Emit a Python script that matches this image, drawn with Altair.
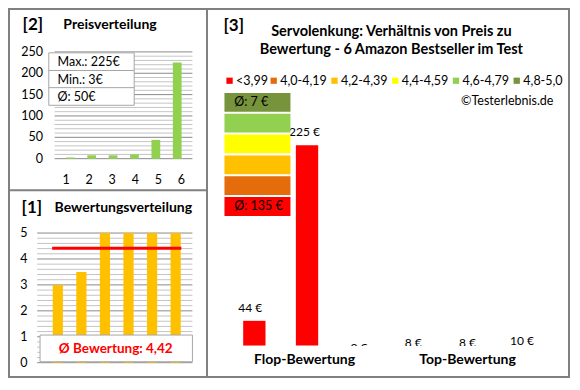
import altair as alt
import pandas as pd

# ---------------- data ----------------
product_idx = [1, 2, 3, 4, 5, 6]
price_dist = [3, 8, 8, 10, 44, 225]              # [2] Preisverteilung
rating_dist = [3.0, 3.5, 5.0, 5.0, 5.0, 5.0]     # [1] Bewertungsverteilung
price_major = [0, 50, 100, 150, 200, 250]
price_minor = [10, 20, 30, 40, 60, 70, 80, 90, 110, 120, 130, 140,
               160, 170, 180, 190, 210, 220, 230, 240]
rating_major = [0, 1, 2, 3, 4, 5]
rating_minor = [0.2, 0.4, 0.6, 0.8, 1.2, 1.4, 1.6, 1.8, 2.2, 2.4, 2.6, 2.8,
                3.2, 3.4, 3.6, 3.8, 4.2, 4.4, 4.6, 4.8]
cmp_prices = [44, 225, 3, 8, 8, 10]               # [3] Preis je Produkt
cmp_ratings = [3.0, 3.5, 5.0, 5.0, 5.0, 5.0]
cmp_groups = ["Flop-Bewertung", "Flop-Bewertung", "Flop-Bewertung",
              "Top-Bewertung", "Top-Bewertung", "Top-Bewertung"]
class_labels = ["<3,99", "4,0-4,19", "4,2-4,39", "4,4-4,59", "4,6-4,79", "4,8-5,0"]
class_colors = ["#FF0000", "#E46C0A", "#FFC000", "#FFFF00", "#92D050", "#77933C"]
class_bounds = [4.0, 4.2, 4.4, 4.6, 4.8]

# ---------------- layout helpers (reference pixel -> canvas) ----------------
W, H = 562, 370
SX = (W - 2) / 577.0
SY = (H - 2) / 386.0


def px(x):
    return (x - 1) * SX + 1


def py(y):
    return (y - 2) * SY + 1


FONT = "Lato"
GRID_MAJOR = "#8a8a8a"
GRID_MINOR = "#c4c4c4"
FRAME = "#808080"
TICK_FS = 12.5


def one():
    return pd.DataFrame({"d": [0]})


def txt(s, x, y, size=11, bold=False, align="left", color="black"):
    return alt.Chart(pd.DataFrame({"t": [s]})).mark_text(
        align=align, baseline="middle", font=FONT, fontSize=size,
        fontWeight="bold" if bold else "normal", color=color
    ).encode(text="t:N", x=alt.value(px(x)), y=alt.value(py(y)))


def box(x1, y1, x2, y2, fill="white", stroke=None, sw=1):
    kw = dict(fill=fill)
    if stroke:
        kw.update(stroke=stroke, strokeWidth=sw)
    return alt.Chart(one()).mark_rect(**kw).encode(
        x=alt.value(px(x1)), x2=alt.value(px(x2)),
        y=alt.value(py(y1)), y2=alt.value(py(y2)))


def hline(x1, x2, y, color=FRAME, sw=2):
    return alt.Chart(one()).mark_rule(color=color, strokeWidth=sw).encode(
        x=alt.value(px(x1)), x2=alt.value(px(x2)), y=alt.value(py(y)))


def vline(x, y1, y2, color=FRAME, sw=2):
    return alt.Chart(one()).mark_rule(color=color, strokeWidth=sw).encode(
        x=alt.value(px(x)), y=alt.value(py(y1)), y2=alt.value(py(y2)))


def rating_class(r):
    k = 0
    for b in class_bounds:
        if r >= b:
            k += 1
    return class_labels[k]


layers = []

# ---------------- frame ----------------
layers.append(box(1, 2, 578, 388, fill="white"))

# ================= panel [2] Preisverteilung =================
p2_y = alt.Scale(domain=[0, 250], range=[py(159), py(47)])
p2_x = alt.Scale(domain=[0.5, 6.5], range=[px(48), px(190.5)])
for ticks, col in [(price_minor, GRID_MINOR), (price_major, GRID_MAJOR)]:
    layers.append(alt.Chart(pd.DataFrame({"v": ticks})).mark_rule(color=col, strokeWidth=1).encode(
        y=alt.Y("v:Q", scale=p2_y, axis=None),
        x=alt.value(px(48)), x2=alt.value(px(190))))
layers.append(alt.Chart(pd.DataFrame({"v": price_major})).mark_text(
    align="right", baseline="middle", font=FONT, fontSize=TICK_FS).encode(
    y=alt.Y("v:Q", scale=p2_y, axis=None), text="v:Q", x=alt.value(px(36))))
p2 = pd.DataFrame({"i": product_idx, "price": price_dist})
layers.append(alt.Chart(p2).mark_bar(color="#92D050", size=9 * SX).encode(
    x=alt.X("i:Q", scale=p2_x, axis=None),
    y=alt.Y("price:Q", scale=p2_y, axis=None),
    y2=alt.Y2(datum=0)))
layers.append(alt.Chart(p2).mark_text(baseline="middle", font=FONT, fontSize=TICK_FS).encode(
    x=alt.X("i:Q", scale=p2_x, axis=None), text="i:Q", y=alt.value(py(181))))
# info box
pmax, pmin = max(price_dist), min(price_dist)
pavg = int(sum(price_dist) / len(price_dist) + 0.5)
layers.append(box(42, 48, 130, 103, fill="white", stroke="#a6a6a6"))
layers.append(hline(42, 130, 66.5, color="#a6a6a6", sw=1))
layers.append(hline(42, 130, 84.5, color="#a6a6a6", sw=1))
layers.append(txt(f"Max.: {pmax}€", 51, 58, 12.5))
layers.append(txt(f"Min.: {pmin}€", 51, 76, 12.5))
layers.append(txt(f"Ø: {pavg}€", 51, 94, 12.5))
layers.append(txt("[2]", 15, 19, 17, True))
layers.append(txt("Preisverteilung", 57, 19, 14, True))

# ================= panel [1] Bewertungsverteilung =================
p1_y = alt.Scale(domain=[0, 5], range=[py(373), py(237)])
p1_x = alt.Scale(domain=[0.5, 6.5], range=[px(34), px(190)])
for ticks, col in [(rating_minor, GRID_MINOR), (rating_major, GRID_MAJOR)]:
    layers.append(alt.Chart(pd.DataFrame({"v": ticks})).mark_rule(color=col, strokeWidth=1).encode(
        y=alt.Y("v:Q", scale=p1_y, axis=None),
        x=alt.value(px(30)), x2=alt.value(px(190))))
layers.append(alt.Chart(pd.DataFrame({"v": rating_major})).mark_text(
    align="right", baseline="middle", font=FONT, fontSize=TICK_FS).encode(
    y=alt.Y("v:Q", scale=p1_y, axis=None), text="v:Q", x=alt.value(px(20))))
p1 = pd.DataFrame({"i": product_idx, "r": rating_dist})
layers.append(alt.Chart(p1).mark_bar(color="#FFC000", size=10.5 * SX).encode(
    x=alt.X("i:Q", scale=p1_x, axis=None),
    y=alt.Y("r:Q", scale=p1_y, axis=None),
    y2=alt.Y2(datum=0)))
ravg = sum(rating_dist) / len(rating_dist)
layers.append(alt.Chart(pd.DataFrame({"a": [product_idx[0]], "b": [product_idx[-1]], "m": [ravg]}))
              .mark_rule(color="#FF0000", strokeWidth=3, strokeCap="square").encode(
    x=alt.X("a:Q", scale=p1_x, axis=None), x2="b:Q",
    y=alt.Y("m:Q", scale=p1_y, axis=None)))
layers.append(box(33, 344, 190, 372, fill="white", stroke="#a6a6a6"))
layers.append(txt("Ø Bewertung: " + f"{ravg:.2f}".replace(".", ","), 111, 359, 13.5, True,
                  align="center", color="#FF0000"))
layers.append(txt("[1]", 14, 211, 17, True))
layers.append(txt("Bewertungsverteilung", 48, 211, 14, True))

# ================= panel [3] Preis vs. Bewertung =================
p3_x = alt.Scale(domain=[0.5, 6.5], range=[px(221.5), px(557.5)])
p3_yc = alt.Scale(domain=[18.5, 250], range=[py(355), py(119.6)], clamp=True)
p3_y = alt.Scale(domain=[18.5, 250], range=[py(355), py(119.6)])
p3 = pd.DataFrame({
    "i": product_idx, "price": cmp_prices,
    "cls": [rating_class(r) for r in cmp_ratings],
    "lab": [f"{p} €" for p in cmp_prices],
})
layers.append(alt.Chart(p3).mark_bar(size=23 * SX).encode(
    x=alt.X("i:Q", scale=p3_x, axis=None),
    y=alt.Y("price:Q", scale=p3_yc, axis=None),
    y2=alt.Y2(datum=18.5),
    color=alt.Color("cls:N", scale=alt.Scale(domain=class_labels, range=class_colors), legend=None)))
layers.append(alt.Chart(p3).mark_text(baseline="middle", font=FONT, fontSize=12, dy=-13.5 * SY).encode(
    x=alt.X("i:Q", scale=p3_x, axis=None),
    y=alt.Y("price:Q", scale=p3_y, axis=None),
    text="lab:N"))
# plot-area clip below baseline
layers.append(box(330, 355.5, 572, 362, fill="white"))
# group labels
g = pd.DataFrame({"i": product_idx, "g": cmp_groups}).groupby("g", as_index=False)["i"].mean()
layers.append(alt.Chart(g).mark_text(baseline="middle", font=FONT, fontSize=14, fontWeight="bold").encode(
    x=alt.X("i:Q", scale=p3_x, axis=None), text="g:N", y=alt.value(py(370.5))))

# colour-scale stack with group averages
stack = pd.DataFrame({"cls": class_labels[::-1]})
stack_y = alt.Scale(domain=class_labels[::-1], range=[py(90), py(219)], paddingInner=0.1, paddingOuter=0)
layers.append(alt.Chart(stack).mark_rect().encode(
    y=alt.Y("cls:N", scale=stack_y, axis=None, sort=None),
    x=alt.value(px(223)), x2=alt.value(px(291)),
    color=alt.Color("cls:N", scale=alt.Scale(domain=class_labels, range=class_colors), legend=None)))
flop = [p for p, gg in zip(cmp_prices, cmp_ratings) if gg < 4.0]
top = [p for p, gg in zip(cmp_prices, cmp_ratings) if gg >= 4.0]
layers.append(txt(f"Ø: {int(sum(top) / len(top) + 0.5)} €", 233, 100, 12.5))
layers.append(txt(f"Ø: {int(sum(flop) / len(flop) + 0.5)} €", 233, 209, 12.5))

# legend row
starts = []
cur = 225.0
for lab in class_labels:
    starts.append(cur)
    cur += 17.0 + 5.7 * len(lab)
leg = pd.DataFrame({"cls": class_labels, "x0": [px(s) for s in starts],
                    "x1": [px(s + 6.5) for s in starts], "xt": [px(s + 10) for s in starts]})
layers.append(alt.Chart(leg).mark_rect().encode(
    x=alt.X("x0:Q", scale=None), x2="x1:Q",
    y=alt.value(py(74)), y2=alt.value(py(80.5)),
    color=alt.Color("cls:N", scale=alt.Scale(domain=class_labels, range=class_colors), legend=None)))
layers.append(alt.Chart(leg).mark_text(align="left", baseline="middle", font=FONT, fontSize=12.5).encode(
    x=alt.X("xt:Q", scale=None), y=alt.value(py(77.5)), text="cls:N"))

layers.append(txt("©Testerlebnis.de", 562, 98, 12.5, align="right"))
layers.append(txt("[3]", 222, 20, 17, True))
layers.append(txt("Servolenkung: Verhältnis von Preis zu", 395, 26, 14.5, True, align="center"))
layers.append(txt("Bewertung - 6 Amazon Bestseller im Test", 395, 45, 14.5, True, align="center"))

# ---------------- frame lines on top ----------------
layers.append(box(1, 2, 578, 388, fill="transparent", stroke=FRAME, sw=2))
layers.append(vline(205, 2, 388))
layers.append(hline(1, 205, 192))

chart = alt.layer(*layers).resolve_scale(
    x="independent", y="independent", color="independent"
).properties(
    width=W, height=H, padding=0,
    autosize=alt.AutoSizeParams(type="none"),
).configure_view(stroke=None)

chart.save("out.html", embed_options={"renderer": "svg", "actions": False})
